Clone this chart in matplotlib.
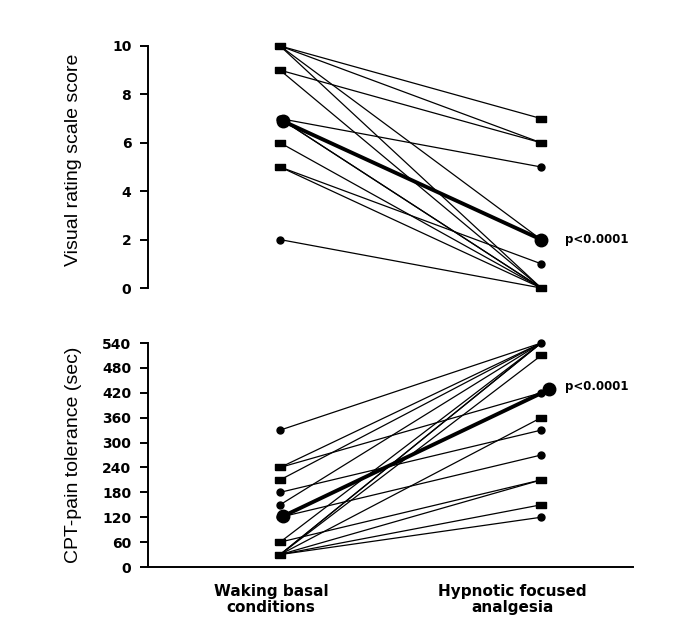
import matplotlib
matplotlib.use("Agg")

import matplotlib.pyplot as plt

# visual rating scale, one pair per subject
vrs_waking = [10, 10, 10, 10, 9, 9, 7, 7, 7, 6, 5, 5, 2]
vrs_hypnotic = [7, 6, 2, 0, 6, 0, 5, 0, 0, 0, 1, 0, 0]
vrs_mean = [6.9, 2.0]

# CPT pain tolerance (sec)
cpt_waking = [330, 240, 240, 210, 180, 150, 120, 60, 60, 30, 30, 30, 30, 30, 30, 30]
cpt_hypnotic = [540, 540, 420, 540, 330, 540, 270, 210, 540, 540, 540, 510, 360, 210, 150, 120]
cpt_mean = [122, 428]

conditions = ["Waking basal\nconditions", "Hypnotic focused\nanalgesia"]
vrs_ticks = [0, 2, 4, 6, 8, 10]
cpt_ticks = list(range(0, 541, 60))
p_text = "p<0.0001"

# marker shape per value (square or dot, as in the figure)
vrs_mk_left = {10: "s", 9: "s", 7: "o", 6: "s", 5: "s", 2: "o"}
vrs_mk_right = {7: "s", 6: "s", 5: "o", 2: "o", 1: "o", 0: "s"}
cpt_mk_left = {330: "o", 240: "s", 210: "s", 180: "o", 150: "o", 120: "o", 60: "s", 30: "s"}
cpt_mk_right = {540: "o", 510: "s", 420: "o", 360: "s", 330: "o", 270: "o",
                210: "s", 150: "s", 120: "o"}

plt.rcParams["font.family"] = ["DejaVu Sans"]
LABEL_FONT = ["Liberation Sans", "DejaVu Sans"]

# 横長の四角マーカー
RECT = [(-1, -0.6), (1, -0.6), (1, 0.6), (-1, 0.6), (-1, -0.6)]


def point(ax, x, v, m):
    if m == "s":
        ax.plot(x, v, marker=RECT, color="black", ms=6.5, ls="none", zorder=3, clip_on=False)
    else:
        ax.plot(x, v, marker="o", color="black", ms=5, ls="none", zorder=3, clip_on=False)


def draw_pairs(ax, left, right, mk_left, mk_right, mean, mean_dx):
    for a, b in zip(left, right):
        ax.plot([1, 2], [a, b], color="black", lw=0.9, zorder=2, clip_on=False)
    for v in set(left):
        point(ax, 1, v, mk_left[v])
    for v in set(right):
        point(ax, 2, v, mk_right[v])
    # group mean
    ax.plot([1.01, 2 + mean_dx], mean, color="black", lw=2.8, zorder=4,
            marker="o", ms=9, clip_on=False)


def style_axis(ax, ticks, ylabel, label_y):
    ax.set_xlim(0.494, 2.352)
    ax.set_yticks(ticks)
    ax.set_ylim(ticks[0], ticks[-1])
    for s in ["top", "right"]:
        ax.spines[s].set_visible(False)
    ax.spines["left"].set_linewidth(1.4)
    ax.tick_params(axis="y", direction="out", length=6, width=1.4, pad=6,
                   labelsize=10)
    for t in ax.get_yticklabels():
        t.set_fontweight("bold")
    ax.set_ylabel(ylabel, family=LABEL_FONT, fontsize=14)
    ax.yaxis.set_label_coords(-0.135, label_y)


fig = plt.figure(figsize=(7.0, 6.28), dpi=100)

# 上のパネル
ax1 = fig.add_axes([0.2114, 0.5414, 0.693, 0.3854])
draw_pairs(ax1, vrs_waking, vrs_hypnotic, vrs_mk_left, vrs_mk_right, vrs_mean, 0.0)
style_axis(ax1, vrs_ticks, "Visual rating scale score", 0.53)
ax1.spines["bottom"].set_visible(False)
ax1.set_xticks([])
ax1.text(2.09, vrs_mean[1], p_text, fontsize=8.5, fontweight="bold", va="center")

# 下のパネル
ax2 = fig.add_axes([0.2114, 0.0971, 0.693, 0.3567])
draw_pairs(ax2, cpt_waking, cpt_hypnotic, cpt_mk_left, cpt_mk_right, cpt_mean, 0.03)
style_axis(ax2, cpt_ticks, "CPT-pain tolerance (sec)", 0.5)
ax2.spines["bottom"].set_linewidth(1.4)
ax2.set_xticks([0.965, 1.89])
ax2.set_xticklabels(conditions, fontsize=11, fontweight="bold", linespacing=1.1)
ax2.tick_params(axis="x", length=0, pad=12)
ax2.text(2.09, cpt_mean[1] + 8, p_text, fontsize=8.5, fontweight="bold", va="center")

plt.savefig("out.png", dpi=100)
